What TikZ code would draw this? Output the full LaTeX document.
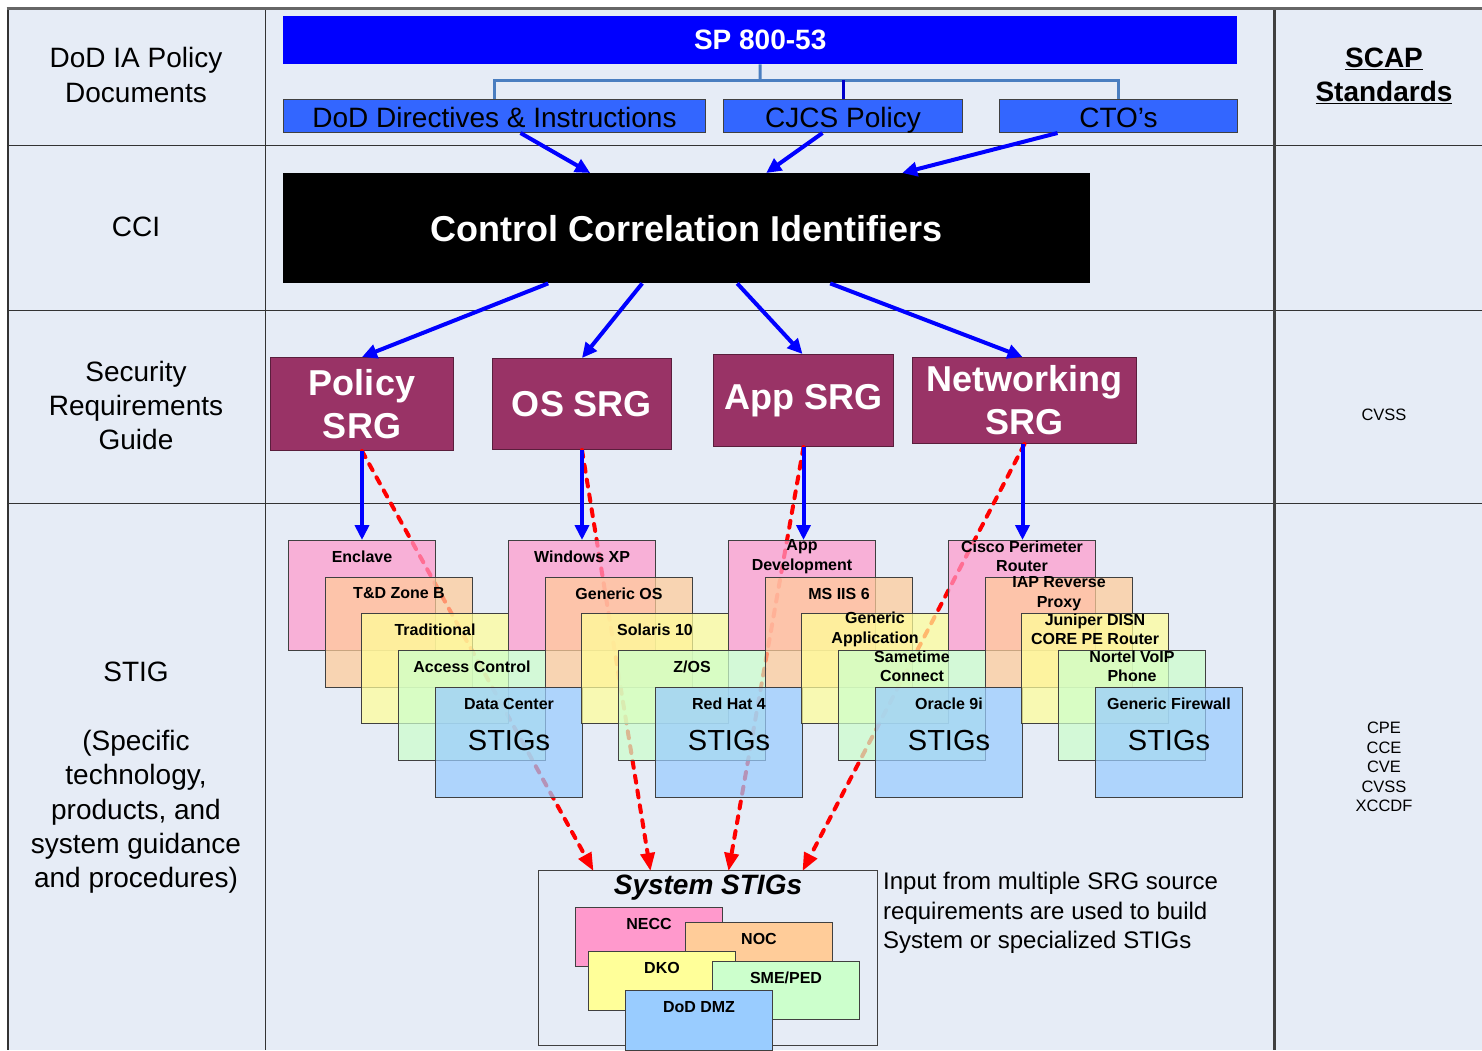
\documentclass[tikz,border=0pt]{standalone}
\usepackage{fontspec}
\setmainfont{Liberation Sans}
\usetikzlibrary{arrows.meta,calc}
\definecolor{bgc}{HTML}{E6ECF6}
\definecolor{gridc}{HTML}{333333}
\definecolor{spblue}{HTML}{0000FF}
\definecolor{midblue}{HTML}{3366FF}
\definecolor{treec}{HTML}{4A7EC0}
\definecolor{arrblue}{HTML}{0000FF}
\definecolor{srgc}{HTML}{993366}
\definecolor{srgdark}{HTML}{5A1E3C}
\definecolor{pinkS}{HTML}{FF99CC}
\definecolor{peachS}{HTML}{FFCC99}
\definecolor{yellowS}{HTML}{FFFF99}
\definecolor{greenS}{HTML}{CCFFCC}
\definecolor{blueS}{HTML}{99CCFF}
\definecolor{boxline}{HTML}{404040}
\newcommand\myfs[2]{\fontsize{#1}{#2}\selectfont}
\tikzset{
  gridln/.style={draw=gridc, line width=1pt},
  coltext/.style={align=center, font=\myfs{28}{34.3}, inner sep=0},
  toptier/.style={fill=midblue, draw=boxline, line width=1pt, anchor=north west, inner sep=0, minimum height=33pt, text height=24pt, text depth=1pt, font=\myfs{28}{30}},
  srgbox/.style={fill=srgc, draw=srgdark, line width=1pt, text=white, font=\bfseries\myfs{36}{43}, align=center, anchor=north west, inner sep=0},
  bluearr/.style={draw=arrblue, line width=4pt, -{Triangle[length=15pt,width=14pt]}},
  redarr/.style={draw=red, line width=4pt, line cap=round, dash pattern=on 7pt off 8pt, -{Triangle[length=18pt,width=14pt]}},
  treeln/.style={draw=treec, line width=3pt},
  stigbox/.style={draw=boxline, line width=1pt, fill opacity=0.72, anchor=north west, inner sep=0, minimum width=147pt, minimum height=110pt},
  stiglbl/.style={font=\bfseries\myfs{16}{19.5}, align=center, inner sep=0},
  sysbox/.style={draw=boxline, line width=1pt, anchor=north west, inner sep=0, minimum width=147pt},
}
\newcommand\mkstig[5]{%
  \node[stigbox, fill=#4] (#1) at (#2,#3) {};
  \node[stiglbl] (#1l) at ($(#1.north)+(0,16.5)$) {#5};
}
\newcommand\mksys[6]{%
  \node[sysbox, fill=#4, minimum height=#6pt] (#1) at (#2,#3) {};
  \node[stiglbl] (#1l) at ($(#1.north)+(0,17)$) {#5};
}
\begin{document}
\begin{tikzpicture}[x=1pt,y=-1pt]
\useasboundingbox (0,0) rectangle (1482,1050);
\fill[white] (0,0) rectangle (1482,1050);
\fill[bgc] (8,8) rectangle (1482,1050);
% grid
\draw[gridln] (8,145) -- (1482,145);
\draw[gridln] (8,310) -- (1482,310);
\draw[gridln] (8,503) -- (1482,503);
\draw[gridln] (265,8) -- (265,1050);
\draw[draw=gridc, line width=1.5pt] (8,8) -- (8,1050);
\draw[draw=boxline, line width=3pt] (1274,8) -- (1274,1050);
\draw[draw=gray!80!black, line width=3pt] (6.5,8) -- (1482,8);

% left column
\node[coltext] (lc1) at (136,75) {DoD IA Policy\\Documents};
\node[coltext] (lc2) at (136,227) {CCI};
\node[coltext] (lc3) at (136,405.5) {Security\\Requirements\\Guide};
\node[coltext] (lc4) at (136,778) {STIG\\\mbox{}\\(Specific\\technology,\\products, and\\system guidance\\and procedures)};

% right column
\node[align=center, font=\bfseries\myfs{28}{34}, inner sep=0] (scap) at (1384,76) {\underline{SCAP}\\\underline{Standards}};
\node[font=\myfs{16.5}{19.5}, inner sep=0] (cvss1) at (1384,415) {CVSS};
\node[align=center, font=\myfs{16.5}{19.5}, inner sep=0] (scaplist) at (1384,767) {CPE\\CCE\\CVE\\CVSS\\XCCDF};

% top tier
\node[fill=spblue, anchor=north west, inner sep=0, minimum width=954pt, minimum height=48pt, text=white, font=\bfseries\myfs{28}{30}] (sp) at (283,16) {SP 800-53};
\node[toptier, minimum width=422pt] (dod) at (283,99) {DoD Directives \& Instructions};
\node[toptier, minimum width=239pt] (cjcs) at (723,99) {CJCS Policy};
\node[toptier, minimum width=238pt] (cto) at (999,99) {CTO’s};
\coordinate (bar) at (760,80);
\draw[treeln] (sp.south) -- (bar);
\draw[treeln] (dod.north) -- (dod.north |- bar) -- (cto.north |- bar) -- (cto.north);
\draw[draw=arrblue!80!black, line width=3pt] (cjcs.north) -- (cjcs.north |- bar);

% CCI
\node[fill=black, anchor=north west, inner sep=0, minimum width=807pt, minimum height=110pt, text=white, font=\bfseries\myfs{36}{40}] (cci) at (283,173) {Control Correlation Identifiers};
\draw[bluearr] ([xshift=26pt]dod.south) -- ([xshift=-96.5pt]cci.north);
\draw[bluearr] ([xshift=-20.5pt]cjcs.south) -- ([xshift=79.5pt]cci.north);
\draw[bluearr] ([xshift=-61pt]cto.south) -- ([xshift=215.5pt]cci.north);

% SRGs
\node[srgbox, minimum width=183pt, minimum height=93pt] (polsrg) at (270,357) {Policy\\SRG};
\node[srgbox, minimum width=179pt, minimum height=91pt] (ossrg) at (492,358) {OS SRG};
\node[srgbox, minimum width=180pt, minimum height=92pt] (appsrg) at (713,354) {App SRG};
\node[srgbox, minimum width=224pt, minimum height=86pt] (netsrg) at (912,357) {Networking\\SRG};
\draw[bluearr] ([xshift=-138.5pt]cci.south) -- (polsrg.north);
\draw[bluearr] ([xshift=-44.5pt]cci.south) -- (ossrg.north);
\draw[bluearr] ([xshift=50.5pt]cci.south) -- ([xshift=-1pt]appsrg.north);
\draw[bluearr] ([xshift=143.5pt]cci.south) -- ([xshift=-2pt]netsrg.north);

% System STIGs box
\node[draw=boxline, line width=1pt, anchor=north west, inner sep=0, minimum width=339pt, minimum height=175pt] (sys) at (538,870) {};
\node[font=\bfseries\itshape\myfs{28}{30}, inner sep=0] (systitle) at (708,888) {System STIGs};

% red dashed arrows (behind stacks)
\draw[redarr] (polsrg.south) -- ([xshift=-114.5pt,yshift=-1pt]sys.north);
\draw[redarr] (ossrg.south) -- ([xshift=-57.5pt,yshift=-1pt]sys.north);
\draw[redarr] (appsrg.south) -- ([xshift=20.5pt,yshift=-1pt]sys.north);
\draw[redarr] (netsrg.south) -- ([xshift=94.5pt,yshift=-1pt]sys.north);

% stacks
\mkstig{s1a}{288}{540}{pinkS}{Enclave}
\mkstig{s1b}{325}{577}{peachS}{T\&D Zone B}
\mkstig{s1c}{361}{613}{yellowS}{Traditional}
\mkstig{s1d}{398}{650}{greenS}{Access Control}
\mkstig{s1e}{435}{687}{blueS}{Data Center}
\mkstig{s2a}{508}{540}{pinkS}{Windows XP}
\mkstig{s2b}{545}{577}{peachS}{Generic OS}
\mkstig{s2c}{581}{613}{yellowS}{Solaris 10}
\mkstig{s2d}{618}{650}{greenS}{Z/OS}
\mkstig{s2e}{655}{687}{blueS}{Red Hat 4}
\mkstig{s3a}{728}{540}{pinkS}{App\\Development}
\mkstig{s3b}{765}{577}{peachS}{MS IIS 6}
\mkstig{s3c}{801}{613}{yellowS}{Generic\\Application}
\mkstig{s3d}{838}{650}{greenS}{Sametime\\Connect}
\mkstig{s3e}{875}{687}{blueS}{Oracle 9i}
\mkstig{s4a}{948}{540}{pinkS}{Cisco Perimeter\\Router}
\mkstig{s4b}{985}{577}{peachS}{IAP Reverse\\Proxy}
\mkstig{s4c}{1021}{613}{yellowS}{Juniper DISN\\CORE PE Router}
\mkstig{s4d}{1058}{650}{greenS}{Nortel VoIP\\Phone}
\mkstig{s4e}{1095}{687}{blueS}{Generic Firewall}
\foreach \s in {s1e,s2e,s3e,s4e}{
  \node[font=\myfs{29}{30}, inner sep=0] (\s t) at ($(\s.north)+(0,54)$) {STIGs};
}

% blue arrows to stacks
\draw[bluearr] (polsrg.south) -- (s1a.north);
\draw[bluearr] (ossrg.south) -- (s2a.north);
\draw[bluearr] (appsrg.south) -- (appsrg.south |- s3a.north);
\draw[bluearr] ([xshift=-2pt]netsrg.south) -- ([xshift=-2pt]netsrg.south |- s4a.north);

% system sub boxes
\mksys{necc}{575}{907}{pinkS}{NECC}{59}
\mksys{noc}{685}{922}{peachS}{NOC}{59}
\mksys{dko}{588}{951}{yellowS}{DKO}{59}
\mksys{sme}{712}{961}{greenS}{SME/PED}{58}
\mksys{dmz}{625}{990}{blueS}{DoD DMZ}{60}

% note text
\node[anchor=north west, align=left, font=\myfs{24}{29.5}, inner sep=0] (note) at (883,872) {Input from multiple SRG source\\requirements are used to build\\System or specialized STIGs};
\end{tikzpicture}
\end{document}
